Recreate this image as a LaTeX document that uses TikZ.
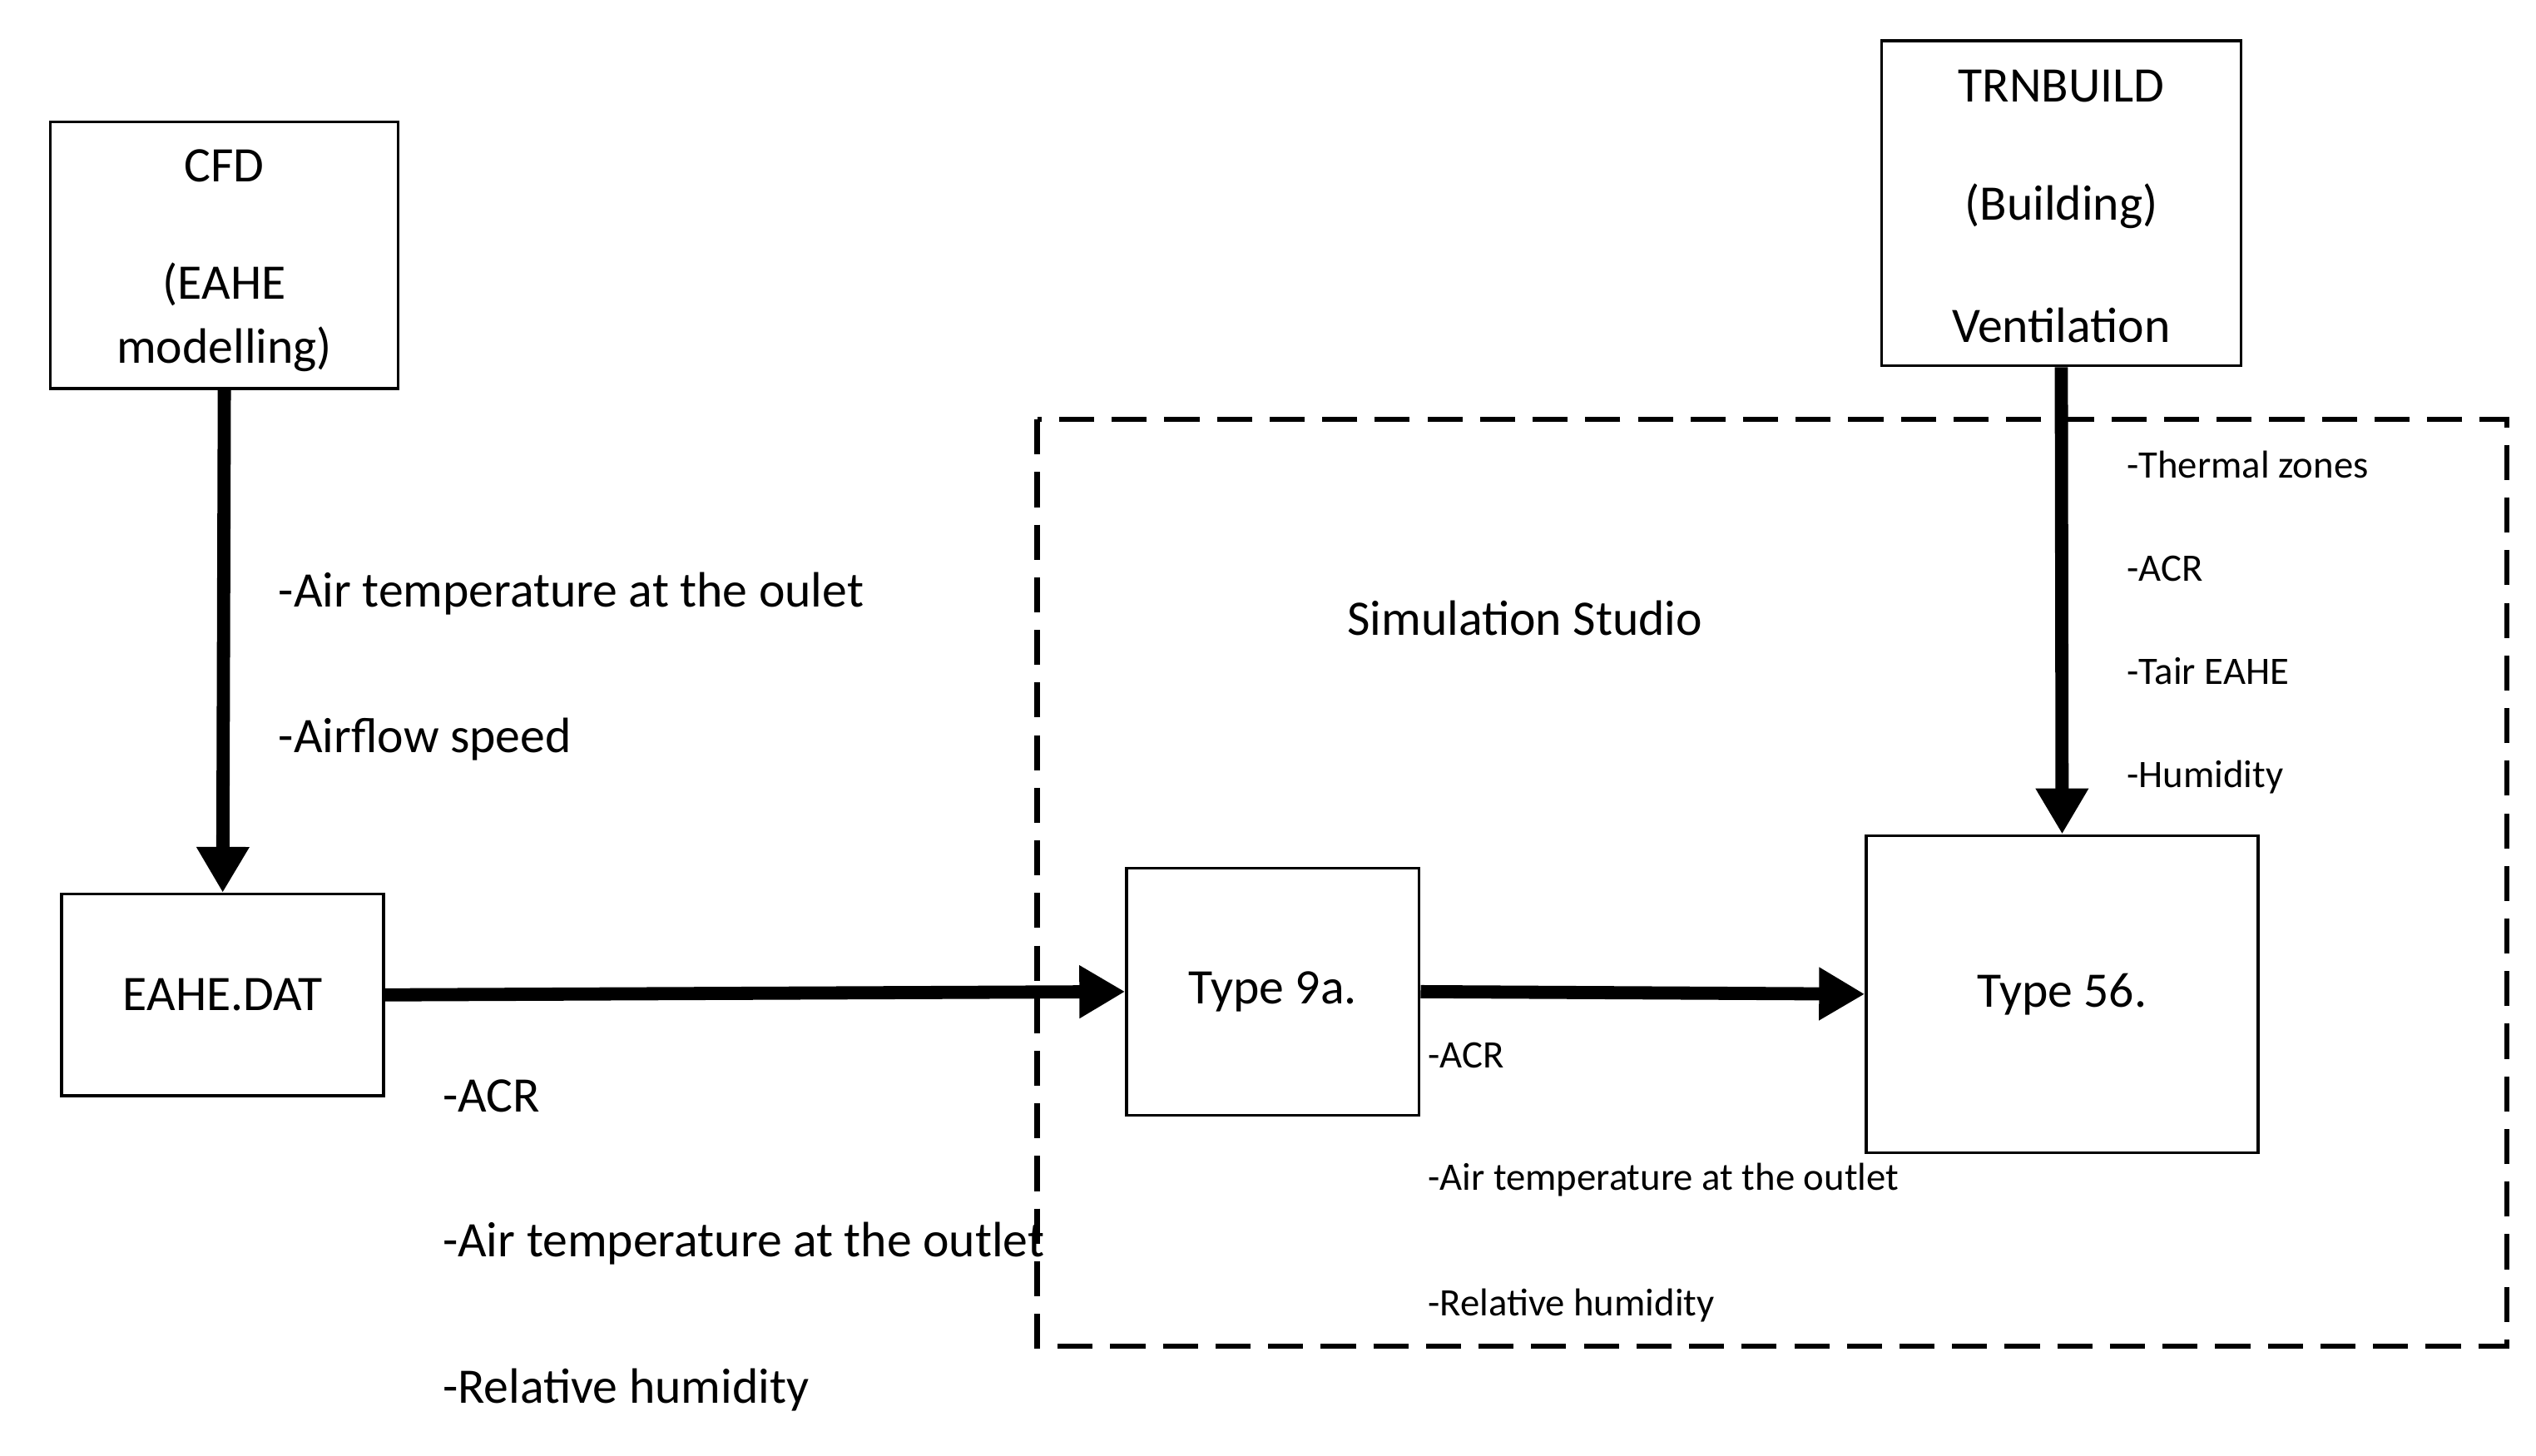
\documentclass[tikz,border=0pt]{standalone}
\usepackage{fontspec}
\setmainfont{Carlito}
\usetikzlibrary{arrows.meta,positioning}
\begin{document}
\begin{tikzpicture}[
        x=0.01954cm, y=-0.01954cm,
        box/.style={rectangle, draw, line width=1pt, font=\fontsize{17}{20}\selectfont, align=center},
        lbl/.style={font=\fontsize{17}{20}\selectfont},
        flow/.style={-{Triangle[length=0.55cm,width=0.6cm]}, line width=4.5pt},
        big/.style={anchor=west, font=\fontsize{17}{20}\selectfont},
        small/.style={anchor=west, font=\fontsize{13.3}{16}\selectfont}
    ]
        \useasboundingbox (0,0) rectangle (1560,895.6);

        % simulation studio frame
        \draw[line width=1.8pt, dash pattern=on 12pt off 6pt] (638,258) rectangle (1542,828);
        \node[lbl] (studio) at (938,380) {Simulation Studio};

        % boxes
        \node[box, minimum width=214*0.01954cm, minimum height=164*0.01954cm] (cfd) at (138,157) {};
        \node[lbl] (cfdA) at (138,102) {CFD};
        \node[lbl] (cfdB) at (138,175) {(EAHE};
        \node[lbl] (cfdC) at (138,215) {modelling)};
        \node[box, minimum width=198*0.01954cm, minimum height=124*0.01954cm] (dat) at (137,612) {EAHE.DAT};
        \node[box, minimum width=221*0.01954cm, minimum height=200*0.01954cm] (trn) at (1268,125) {};
        \node[lbl] (trnA) at (1268,53) {TRNBUILD};
        \node[lbl] (trnB) at (1268,127) {(Building)};
        \node[lbl] (trnC) at (1268,200) {Ventilation};
        \node[box, minimum width=180*0.01954cm, minimum height=152*0.01954cm] (t9) at (783,610) {Type 9a.};
        \node[box, minimum width=241*0.01954cm, minimum height=195*0.01954cm] (t56) at (1268.5,611.5) {Type 56.};

        % arrows
        \draw[flow] (cfd.south) -- (dat.north);
        \draw[flow] (dat.east) -- (t9.west);
        \draw[flow] (t9.east) -- (t56.west);
        \draw[flow] (trn.south) -- (t56.north);

        % labels
        \node[big] (l1) at (165,365) {-Air temperature at the oulet};
        \node[big] (l2) at (165,455) {-Airflow speed};
        \node[big] (l3) at (266,674) {-ACR};
        \node[big] (l4) at (266,765) {-Air temperature at the outlet};
        \node[big] (l5) at (266,855) {-Relative humidity};
        \node[small] (r1) at (1302,286) {-Thermal zones};
        \node[small] (r2) at (1302,350) {-ACR};
        \node[small] (r3) at (1302,413) {-Tair EAHE};
        \node[small] (r4) at (1302,478) {-Humidity};
        \node[small] (m1) at (872,649) {-ACR};
        \node[small] (m2) at (872,726) {-Air temperature at the outlet};
        \node[small] (m3) at (872,803) {-Relative humidity};
    \end{tikzpicture}
\end{document}
